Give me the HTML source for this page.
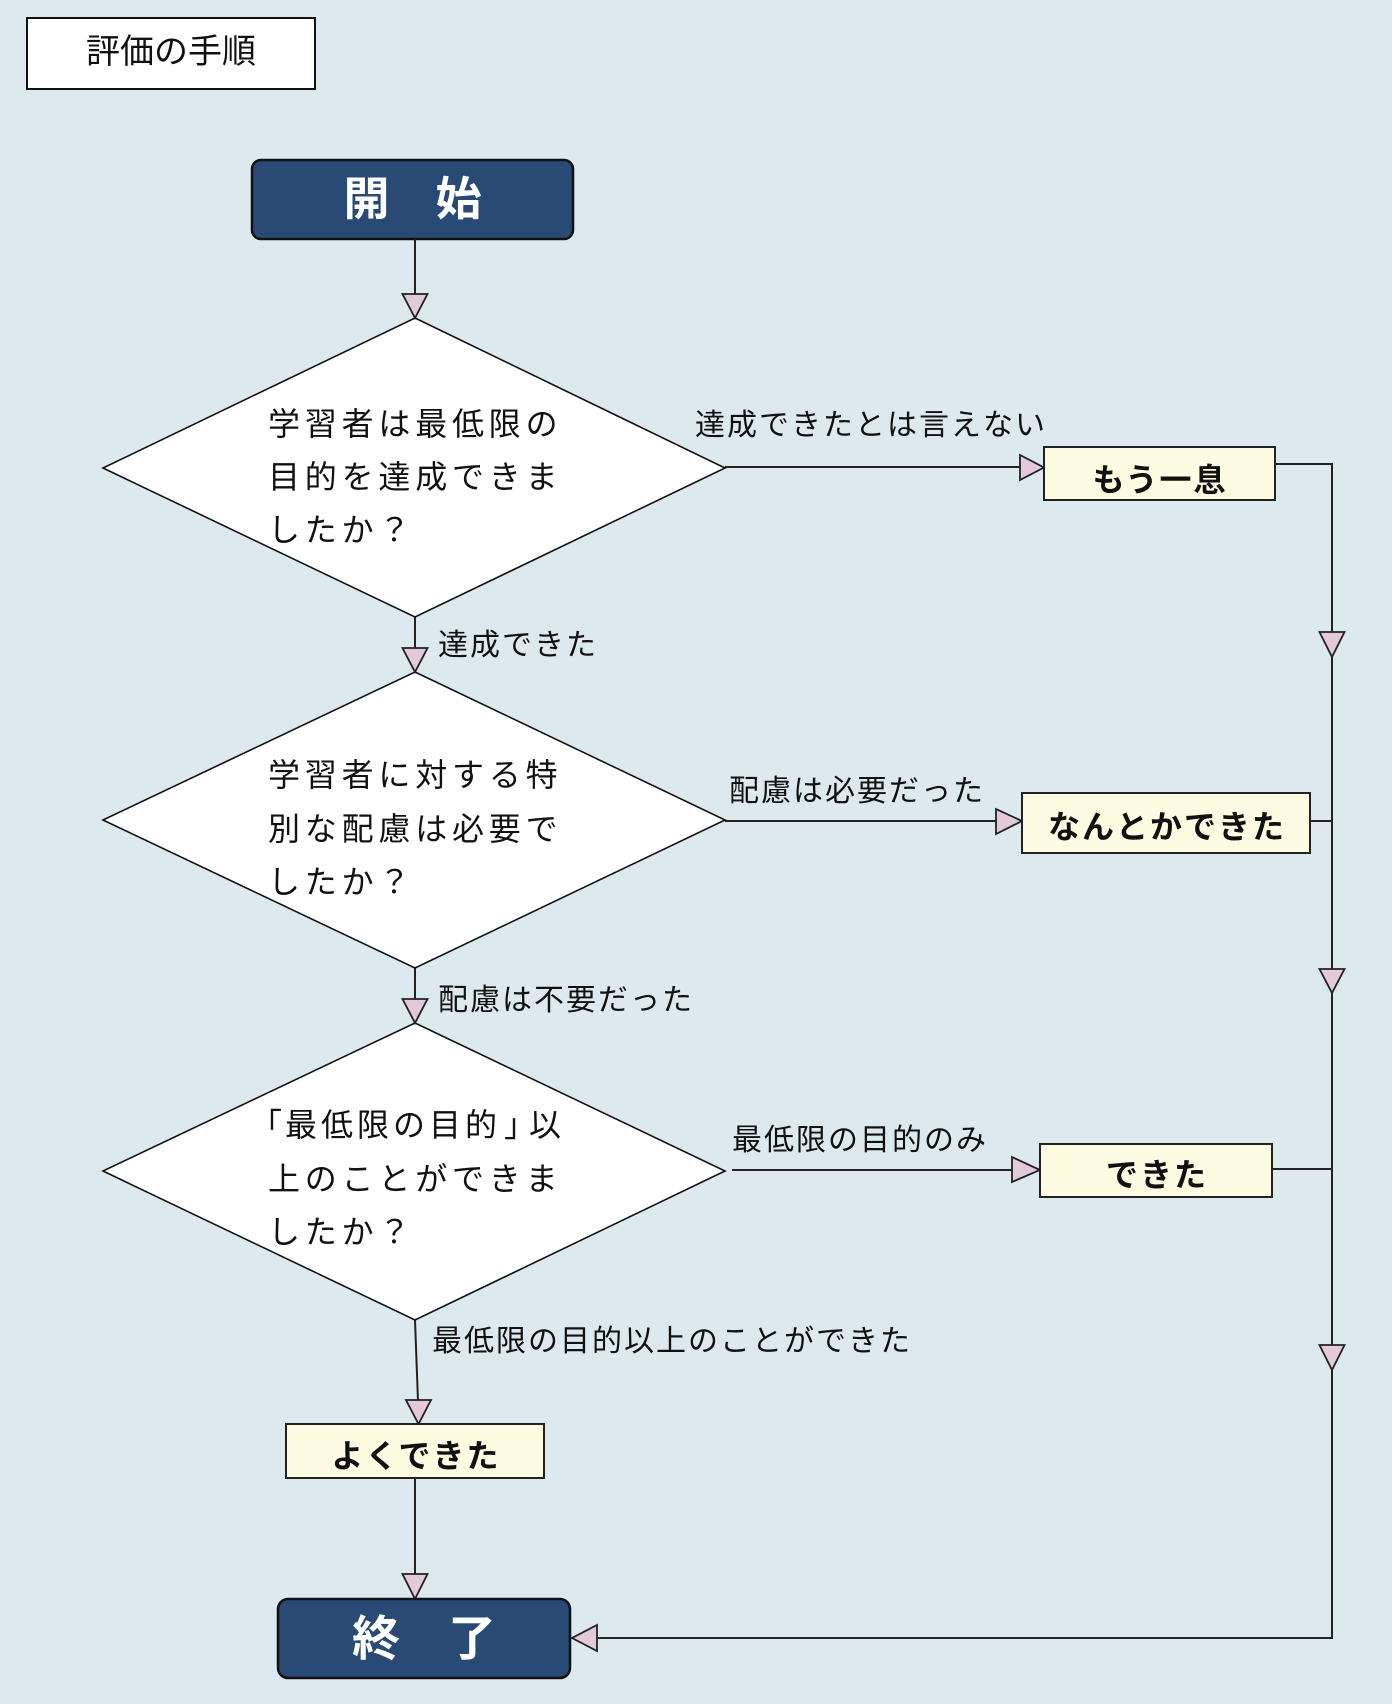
<!DOCTYPE html>
<html>
<head>
<meta charset="utf-8">
<title>評価の手順</title>
<style>
html,body{margin:0;padding:0;width:1392px;height:1704px;overflow:hidden;background:#dce9ef;}
</style>
</head>
<body>
<svg width="1392" height="1704" viewBox="0 0 1392 1704" xmlns="http://www.w3.org/2000/svg" font-family="'Liberation Sans','Noto Sans CJK JP',sans-serif">
  <rect x="0" y="0" width="1392" height="1704" fill="#dce9ef"/>

  <rect x="27" y="18" width="288" height="71" fill="#ffffff" stroke="#111111" stroke-width="2"/>
  <text x="171" y="63" text-anchor="middle" font-size="34" fill="#111111">評価の手順</text>

  <rect x="252" y="160" width="321" height="79" rx="9" fill="#284a74" stroke="#111111" stroke-width="2.5"/>
  <text x="412.5" y="215" text-anchor="middle" font-size="46" font-weight="bold" fill="#ffffff">開　始</text>

  <g stroke="#222222" stroke-width="2" fill="none">
    <line x1="415" y1="239" x2="415" y2="296"/>
    <line x1="415" y1="617" x2="415" y2="650"/>
    <line x1="415" y1="967" x2="415" y2="1000"/>
    <line x1="415" y1="1320" x2="418" y2="1401"/>
    <line x1="415" y1="1478" x2="415" y2="1575"/>
    <line x1="725" y1="467" x2="1022" y2="467"/>
    <line x1="725" y1="821" x2="996" y2="821"/>
    <line x1="732" y1="1170" x2="1012" y2="1170"/>
    <polyline points="1275,464 1332,464 1332,1638 597,1638"/>
    <line x1="1310" y1="821" x2="1332" y2="821"/>
    <line x1="1272" y1="1169" x2="1332" y2="1169"/>
  </g>

  <g fill="#ffffff" stroke="#111111" stroke-width="1.6">
    <polygon points="415,318 725,468 415,617 103,468"/>
    <polygon points="415,672 725,820 415,968 103,820"/>
    <polygon points="415,1023 725,1171 415,1320 103,1171"/>
  </g>

  <g fill="#e4c8dc" stroke="#222222" stroke-width="1.8">
    <polygon points="402.5,294 427.5,294 415,318"/>
    <polygon points="402.5,648 427.5,648 415,672"/>
    <polygon points="402.5,999 427.5,999 415,1023"/>
    <polygon points="406,1400 431,1400 418.5,1424"/>
    <polygon points="402.5,1574 427.5,1574 415,1599"/>
    <polygon points="1319.5,632 1344.5,632 1332,657"/>
    <polygon points="1319.5,969 1344.5,969 1332,993"/>
    <polygon points="1319.5,1345 1344.5,1345 1332,1370"/>
    <polygon points="1020,455 1020,480 1044,467.5"/>
    <polygon points="996,809 996,834 1022,821"/>
    <polygon points="1012,1157 1012,1182 1040,1170"/>
    <polygon points="597,1625 597,1651 572,1638"/>
  </g>

  <g font-size="32" fill="#111111" letter-spacing="4.8">
    <text x="268" y="435">学習者は最低限の</text>
    <text x="268" y="488">目的を達成できま</text>
    <text x="268" y="541">したか？</text>
    <text x="268" y="786">学習者に対する特</text>
    <text x="268" y="840">別な配慮は必要で</text>
    <text x="268" y="893">したか？</text>
    <text y="1136" letter-spacing="0"><tspan x="250">「</tspan><tspan x="285">最</tspan><tspan x="321">低</tspan><tspan x="357">限</tspan><tspan x="393">の</tspan><tspan x="429">目</tspan><tspan x="465">的</tspan><tspan x="504">」</tspan><tspan x="529">以</tspan></text>
    <text x="268" y="1190">上のことができま</text>
    <text x="268" y="1243">したか？</text>
  </g>

  <g font-size="30" fill="#111111" letter-spacing="2">
    <text x="438" y="655">達成できた</text>
    <text x="438" y="1010">配慮は不要だった</text>
    <text x="695" y="435">達成できたとは言えない</text>
    <text x="729" y="801">配慮は必要だった</text>
    <text x="732" y="1150">最低限の目的のみ</text>
    <text x="432" y="1351">最低限の目的以上のことができた</text>
  </g>

  <g fill="#fdfbe1" stroke="#222222" stroke-width="2">
    <rect x="1044" y="447" width="231" height="53"/>
    <rect x="1022" y="793" width="288" height="60"/>
    <rect x="1040" y="1144" width="232" height="53"/>
    <rect x="286" y="1424" width="258" height="54"/>
  </g>
  <g font-size="32" font-weight="bold" fill="#111111" letter-spacing="2" text-anchor="middle">
    <text x="1160" y="491">もう一息</text>
    <text x="1167" y="838">なんとかできた</text>
    <text x="1157" y="1186">できた</text>
    <text x="416" y="1467">よくできた</text>
  </g>

  <rect x="278" y="1599" width="292" height="79" rx="10" fill="#284a74" stroke="#111111" stroke-width="2.5"/>
  <text x="424" y="1655" text-anchor="middle" font-size="48" font-weight="bold" fill="#ffffff">終　了</text>
</svg>
</body>
</html>
